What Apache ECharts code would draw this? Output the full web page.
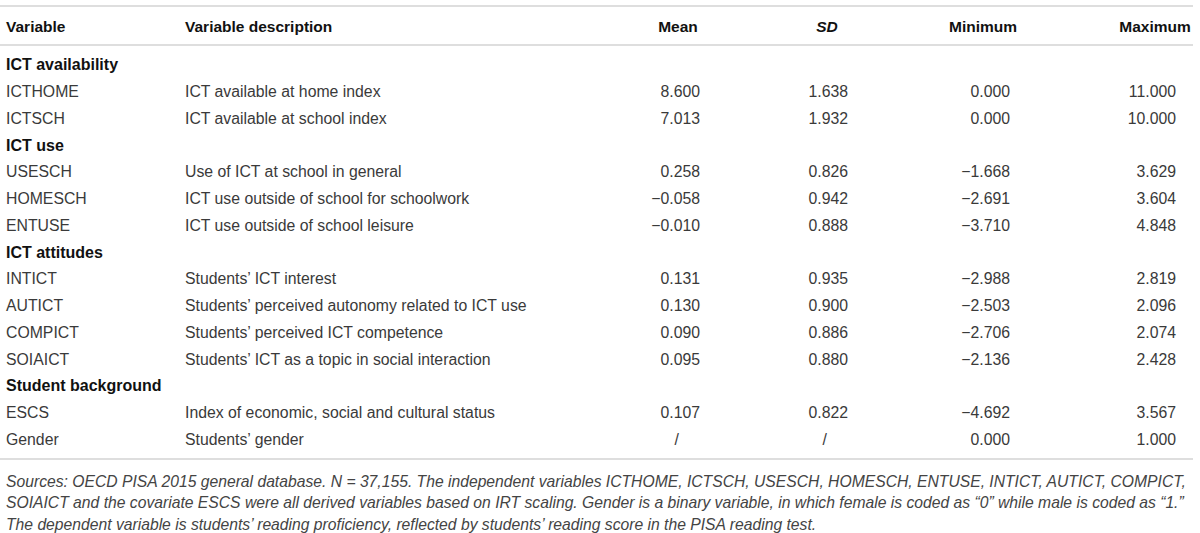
<!DOCTYPE html>
<html>
<head>
<meta charset="utf-8">
<style>html, body { margin: 0; padding: 0; background: #fff; }</style>
</head>
<body>
<div id="main" style="width: 1200px;height:533px;"></div>
<script src="https://cdn.jsdelivr.net/npm/echarts@6/dist/echarts.min.js"></script>
<script type="text/javascript">
    // table content
    var headers = ['Variable', 'Variable description', 'Mean', 'SD', 'Minimum', 'Maximum'];
    var groups = ['ICT availability', 'ICT use', 'ICT attitudes', 'Student background'];
    var groupOf = [0, 0, 1, 1, 1, 2, 2, 2, 2, 3, 3];
    var variables = ['ICTHOME', 'ICTSCH', 'USESCH', 'HOMESCH', 'ENTUSE', 'INTICT', 'AUTICT', 'COMPICT', 'SOIAICT', 'ESCS', 'Gender'];
    var descriptions = [
        'ICT available at home index',
        'ICT available at school index',
        'Use of ICT at school in general',
        'ICT use outside of school for schoolwork',
        'ICT use outside of school leisure',
        'Students\u2019 ICT interest',
        'Students\u2019 perceived autonomy related to ICT use',
        'Students\u2019 perceived ICT competence',
        'Students\u2019 ICT as a topic in social interaction',
        'Index of economic, social and cultural status',
        'Students\u2019 gender'
    ];
    var means = [8.600, 7.013, 0.258, -0.058, -0.010, 0.131, 0.130, 0.090, 0.095, 0.107, null];
    var sds = [1.638, 1.932, 0.826, 0.942, 0.888, 0.935, 0.900, 0.886, 0.880, 0.822, null];
    var minimums = [0.000, 0.000, -1.668, -2.691, -3.710, -2.988, -2.503, -2.706, -2.136, -4.692, 0.000];
    var maximums = [11.000, 10.000, 3.629, 3.604, 4.848, 2.819, 2.096, 2.074, 2.428, 3.567, 1.000];
    var notes = [
        'Sources: OECD PISA 2015 general database. N = 37,155. The independent variables ICTHOME, ICTSCH, USESCH, HOMESCH, ENTUSE, INTICT, AUTICT, COMPICT,',
        'SOIAICT and the covariate ESCS were all derived variables based on IRT scaling. Gender is a binary variable, in which female is coded as \u201c0\u201d while male is coded as \u201c1.\u201d',
        'The dependent variable is students\u2019 reading proficiency, reflected by students\u2019 reading score in the PISA reading test.'
    ];

    // column anchors (px)
    var colX = [6, 185, 700, 848, 1010, 1176];
    var headX = [6, 185, 678, 827, 983, 1155];
    var FONT = '"Liberation Sans", Arial, sans-serif';
    var textColor = '#3a3a3a';
    var boldColor = '#111';
    var lineColor = '#dedede';

    function fmt(v) {
        if (v === null) return '/';
        var s = v.toFixed(3);
        return v < 0 ? '\u2212' + s.slice(1) : s;
    }

    // flatten into table rows: group title rows + variable rows
    var rows = [];
    var lastGroup = -1;
    for (var i = 0; i < variables.length; i++) {
        if (groupOf[i] !== lastGroup) {
            lastGroup = groupOf[i];
            rows.push({ title: groups[lastGroup] });
        }
        rows.push({ idx: i });
    }

    var rowTop = 51.6, rowH = 26.75;

    var graphics = [];
    [6, 45, 459].forEach(function (y) {
        graphics.push({
            type: 'rect', shape: { x: 0, y: y - 1, width: 1193, height: 2 },
            style: { fill: lineColor }, silent: true
        });
    });
    headers.forEach(function (h, c) {
        graphics.push({
            type: 'text', x: headX[c], y: 26,
            style: {
                text: h, fill: boldColor,
                font: (h === 'SD' ? 'italic ' : '') + 'bold 15.5px ' + FONT,
                align: c < 2 ? 'left' : 'center', verticalAlign: 'middle'
            }
        });
    });
    notes.forEach(function (t, k) {
        graphics.push({
            type: 'text', x: 6, y: 481 + k * 21.5,
            style: { text: t, fill: '#444', font: 'italic 15.7px ' + FONT, align: 'left', verticalAlign: 'middle' }
        });
    });

    var option = {
        animation: false,
        grid: { left: 0, right: 0, top: rowTop, height: rowH * rows.length },
        xAxis: { type: 'value', min: 0, max: 1200, show: false },
        yAxis: { type: 'category', inverse: true, show: false, data: rows.map(function (r, k) { return String(k); }) },
        graphic: graphics,
        series: [{
            type: 'custom',
            silent: true,
            data: rows.map(function (r, k) { return [0, k]; }),
            renderItem: function (params, api) {
                var y = api.coord([0, api.value(1)])[1];
                var r = rows[params.dataIndex];
                if (r.title) {
                    return {
                        type: 'text', x: colX[0], y: y,
                        style: { text: r.title, fill: boldColor, font: 'bold 16px ' + FONT, align: 'left', verticalAlign: 'middle' }
                    };
                }
                var i = r.idx;
                var cells = [variables[i], descriptions[i], fmt(means[i]), fmt(sds[i]), fmt(minimums[i]), fmt(maximums[i])];
                return {
                    type: 'group',
                    children: cells.map(function (t, c) {
                        var right = c >= 2;
                        var x = colX[c];
                        if (t === '/') x = colX[c] - 21;
                        return {
                            type: 'text', x: x, y: y,
                            style: { text: t, fill: textColor, font: '15.8px ' + FONT, align: right ? 'right' : 'left', verticalAlign: 'middle' }
                        };
                    })
                };
            }
        }]
    };
    var myChart = echarts.init(document.getElementById('main'), null, { renderer: 'svg' });
    myChart.setOption(option);
</script>
</body>
</html>
